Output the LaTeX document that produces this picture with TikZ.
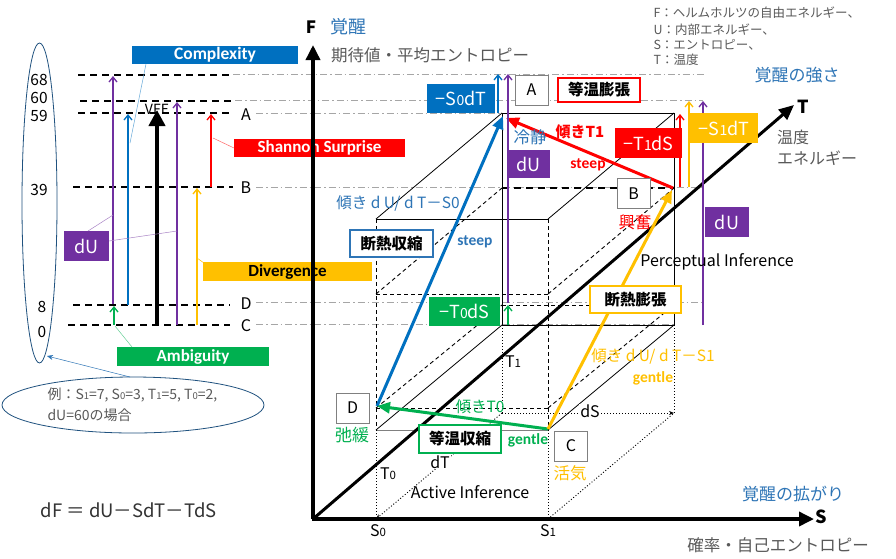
\documentclass[tikz,border=0pt]{standalone}
\usepackage{fontspec}
\setmainfont{Noto Sans CJK JP}
\newfontfamily\calib{Carlito}
\usetikzlibrary{arrows.meta,shapes.geometric}
\definecolor{mblue}{HTML}{0070C0}
\definecolor{tblue}{HTML}{2E75B6}
\definecolor{mred}{HTML}{FF0000}
\definecolor{mgreen}{HTML}{00B050}
\definecolor{myellow}{HTML}{FFC000}
\definecolor{mpurple}{HTML}{7030A0}
\definecolor{mgray}{HTML}{595959}
\definecolor{gline}{HTML}{A6A6A6}
\newcommand{\myfs}[1]{\fontsize{#1}{#1}\selectfont}
\tikzset{
  ggrid/.style={gline, line width=0.8pt, dash pattern=on 7pt off 3pt on 1.5pt off 3pt},
  bdash/.style={black, line width=1.7pt, dash pattern=on 7pt off 5pt},
  cdash/.style={black, line width=0.9pt, dash pattern=on 4pt off 3pt},
  cdot/.style={black, line width=0.9pt, dash pattern=on 1pt off 2pt},
  cline/.style={black, line width=0.8pt},
  axisarr/.style={black, line width=3.5pt, -{Triangle[length=15pt,width=14pt]}},
  bigarr/.style={line width=3pt, -{Triangle[length=13pt,width=11pt]}},
  thinarr/.style={line width=1.3pt, -{Straight Barb[length=5pt,width=8pt]}},
  callout/.style={line width=0.5pt},
  fillbox/.style={rectangle, inner sep=0pt, text=white},
  labbox/.style={rectangle, draw=gray, line width=0.8pt, fill=white, minimum width=33pt, minimum height=30pt, inner sep=0pt, font=\myfs{16}},
  procbox/.style={rectangle, fill=white, line width=1.6pt, inner sep=0pt, font=\bfseries\myfs{15.5}},
  darktext/.style={text=mgray},
}
\begin{document}
\begin{tikzpicture}[x=1pt,y=-1pt]
\useasboundingbox[fill=white] (0,0) rectangle (896,558);
% ---------- coordinates
\coordinate (O) at (313,519);
\coordinate (Ftip) at (313,45);
\coordinate (Stip) at (814,519);
\coordinate (Ttip) at (794,105);
\coordinate (A) at (503,116);
\coordinate (Ar) at (506,118);
\coordinate (B) at (673,188);
\coordinate (Bt) at (672,190);
\coordinate (C) at (548,429);
\coordinate (D) at (377,406);
\coordinate (ftl) at (376,219); \coordinate (ftr) at (548,219);
\coordinate (fbl) at (376,430); \coordinate (fbr) at (548,430);
\coordinate (btl) at (502,113); \coordinate (btr) at (674,113);
\coordinate (bbl) at (502,325); \coordinate (bbr) at (674,325);
\coordinate (fbL) at (376,294); \coordinate (fbR) at (548,294);
\coordinate (bbL) at (502,188); \coordinate (bbR) at (674,188);
\coordinate (fdL) at (376,408); \coordinate (fdR) at (548,408);
\coordinate (bdL) at (502,305); \coordinate (bdR) at (674,305);
\coordinate (s0) at (376,519); \coordinate (s1) at (548,519);
\coordinate (t1a) at (502,413); \coordinate (t1b) at (674,413);

% ---------- gray grid lines
\draw[ggrid] (233,74) -- (707,74);
\draw[ggrid] (235,100) -- (703,100);
\draw[ggrid] (256,113) -- (502,113);
\draw[ggrid] (256,187) -- (705,187);
\draw[ggrid] (256,302) -- (703,302);
\draw[ggrid] (256,324) -- (674,324);

% ---------- left scale dashed lines
\draw[bdash] (78,75) -- (233,75);
\draw[bdash] (80,101) -- (235,101);
\draw[bdash] (78,113) -- (233,113);
\draw[bdash] (73,187) -- (233,187);
\draw[bdash] (73,305) -- (230,305);
\draw[bdash] (68,325) -- (230,325);

% scale letters
\node (lA) at (246,115) {\myfs{16}A};
\node (lB) at (246,188) {\myfs{16}B};
\node (lD) at (246,304) {\myfs{16}D};
\node (lC) at (246,326) {\myfs{16}C};

% big ellipse with numbers
\node (bigell) [draw=tblue!70!black, line width=0.8pt, ellipse, minimum width=35pt, minimum height=320pt, inner sep=0pt] at (39.5,203) {};
\node (n68) at (39,80) {\myfs{15.5}68};
\node (n60) at (39,98) {\myfs{15.5}60};
\node (n59) at (39,116) {\myfs{15.5}59};
\node (n39) at (39,190) {\myfs{15.5}39};
\node (n8) at (42,307) {\myfs{15.5}8};
\node (n0) at (42,332) {\myfs{15.5}0};

% VFE text (behind arrow)
\node (vfe) at (157,109) {\myfs{14}VFE};

% left arrows
\draw[thinarr, mpurple] (113,304) -- (113,76);
\draw[thinarr, mgreen] (114,325) -- (114,306);
\draw[thinarr, mblue] (128,305) -- (128,114);
\draw[black, line width=4pt, -{Triangle[length=16pt,width=16pt]}] (157,325) -- (157,110);
\draw[thinarr, mpurple] (177,325) -- (177,102);
\draw[thinarr, myellow] (197,325) -- (197,188);
\draw[thinarr, mred] (211,187) -- (211,114);

% callout boxes left
\node (cx) [fillbox, fill=mblue, minimum width=166pt, minimum height=18pt, font=\calib\bfseries\myfs{17.5}] at (215,55) {Complexity};
\draw[callout, mblue!60] (146,64) -- (130,143);
\node (sh) [fillbox, fill=mred, minimum width=171pt, minimum height=18pt, font=\calib\bfseries\myfs{17}] at (319.5,148) {Shannon Surprise};
\draw[callout, mred!60] (213,138) -- (234,148);
\node (dv) [fillbox, fill=myellow, text=black, minimum width=169pt, minimum height=19pt, font=\calib\bfseries\myfs{17}] at (287.5,271.5) {Divergence};
\draw[callout, myellow] (197,258) -- (204,263);
\node (du1) [fillbox, fill=mpurple, minimum width=45pt, minimum height=30pt, font=\myfs{18}] at (86.5,246) {dU};
\draw[callout, mpurple!60] (88,231) -- (113,215);
\draw[callout, mpurple!60] (109,241) -- (177,231);
\node (amb) [fillbox, fill=mgreen, minimum width=152pt, minimum height=19pt, font=\calib\bfseries\myfs{17}] at (193,356.5) {Ambiguity};
\draw[callout, mgreen!60] (115,326) -- (132,347);

% example ellipse
\node (exell) [draw=tblue!70!black, line width=0.8pt, ellipse, minimum width=262pt, minimum height=56pt, inner sep=0pt] at (133,405) {};
\draw[callout, tblue, -{Stealth[length=6pt,width=5pt]}] (130,377) -- (47,356);
\node (ex1) [anchor=west, darktext] at (44,395) {\myfs{14}例：S{\myfs{9.5}1}=7, S{\myfs{9.5}0}=3, T{\myfs{9.5}1}=5, T{\myfs{9.5}0}=2,};
\node (ex2) [anchor=west, darktext] at (44,415) {\myfs{14}dU=60の場合};

% formula
\node (dF) [anchor=west, text=black!80] at (37,510) {\myfs{18.5}dF ＝ dU－SdT－TdS};

% ---------- cube
\draw[cline] (ftl) -- (ftr);
\draw[cline] (btl) -- (btr) -- (bbr) -- (bbl) -- cycle;
\draw[cline] (ftl) -- (btl);
\draw[cline] (ftr) -- (btr);
\draw[cline] (fbl) -- (bbl);
\draw[cline] (fbr) -- (bbr);
\draw[cdash] (ftl) -- (fbl);
\draw[cdash] (ftr) -- (fbr);
\draw[gray, line width=1pt] (fbl) -- (fbr);
% B level
\draw[bdash, line width=1.5pt] (bbL) -- (bbR);
\draw[cdash] (fbL) -- (fbR);
\draw[cdash] (fbL) -- (bbL);
\draw[cdash] (fbR) -- (bbR);
% D level
\draw[cdash] (fdL) -- (fdR);
\draw[cdash] (bdL) -- (bdR);
\draw[cdash] (fdL) -- (bdL);
\draw[cdash] (fdR) -- (bdR);
% base dotted
\draw[cdot] (fbl) -- (s0);
\draw[cdot] (fbr) -- (s1);
\draw[cdot] (bbl) -- (t1a);
\draw[cdot] (bbr) -- (t1b);
\draw[cdot, -{Stealth[length=5pt,width=4pt]}] (t1a) -- (s0);
\draw[cdot] (s1) -- (t1b);
\draw[cdot, -{Stealth[length=5pt,width=4pt]}] (t1a) -- (t1b);

% ---------- axes
\draw[axisarr] (O) -- (Ftip);
\draw[axisarr] ([xshift=-1.5pt]O) -- (Stip);
\draw[black, line width=3pt, -{Triangle[length=15pt,width=13pt]}] (O) -- (Ttip);

% ---------- colored process arrows
\draw[bigarr, mblue] (D) -- (A);
\draw[bigarr, mred] (B) -- (Ar);
\draw[bigarr, mgreen] (C) -- (D);
\draw[bigarr, myellow] (C) -- (Bt);

% thin arrows in cube
\draw[thinarr, mblue] (498,113) -- (498,74);
\draw[thinarr, mpurple] (508,303) -- (508,74);
\draw[thinarr, mgreen] (508,325) -- (508,305);
\draw[thinarr, mred] (680,187) -- (680,114);
\draw[thinarr, myellow] (689,187) -- (689,101);
\draw[thinarr, mpurple] (703,325) -- (703,101);

% ---------- labels on axes
\node (lF) at (311,27) {\bfseries\myfs{17}F};
\node (lFj) [text=tblue] at (348,27) {\myfs{18}覚醒};
\node (lFd) [darktext] at (430,55) {\myfs{16.5}期待値・平均エントロピー};
\node (lS) at (821,517) {\bfseries\myfs{18}S};
\node (lSj) [text=tblue] at (793,494) {\myfs{17}覚醒の拡がり};
\node (lSd) [darktext] at (778,545) {\myfs{16.5}確率・自己エントロピー};
\node (lT) at (803,107) {\bfseries\myfs{18}T};
\node (lTj) [text=tblue] at (797,75) {\myfs{17}覚醒の強さ};
\node (lTd1) [darktext] at (793,137) {\myfs{16}温度};
\node (lTd2) [darktext] at (817,158) {\myfs{16}エネルギー};
% legend
\node (lg1) [anchor=west, darktext] at (650,13) {\myfs{12.5}F：ヘルムホルツの自由エネルギー、};
\node (lg2) [anchor=west, darktext] at (650,30) {\myfs{12.5}U：内部エネルギー、};
\node (lg3) [anchor=west, darktext] at (650,45) {\myfs{12.5}S：エントロピー、};
\node (lg4) [anchor=west, darktext] at (650,60) {\myfs{12.5}T：温度};

% axis ticks labels
\node (lS0) at (378,531) {\myfs{16}S{\myfs{11.5}0}};
\node (lS1) at (548,531) {\myfs{16}S{\myfs{11.5}1}};
\node (lT0) at (388,474) {\myfs{16}T{\myfs{11.5}0}};
\node (lT1) at (513,362) {\myfs{16}T{\myfs{11.5}1}};
\node (ldT) [fill=white, inner sep=1pt] at (440,462) {\myfs{16}dT};
\node (ldS) [fill=white, inner sep=1pt] at (590,411) {\myfs{16}dS};

% ---------- boxes in cube
\node (bS0dT) [fillbox, fill=mblue, minimum width=68pt, minimum height=29pt, font=\myfs{18}] at (461,98.5) {−S{\myfs{14}0}dT};
\node (bA) [labbox] at (531.5,90) {A};
\node (bIE) [procbox, draw=mred, minimum width=82pt, minimum height=24pt] at (599,90) {等温膨張};
\node (calm) [text=tblue] at (530,137) {\myfs{16.5}冷静};
\node (bdU2) [fillbox, fill=mpurple, minimum width=43pt, minimum height=28pt, font=\myfs{18}] at (528.5,164) {dU};
\node (kT1) [text=mred] at (580,132) {\bfseries\myfs{15}傾きT1};
\node (stp1) [text=mred] at (588,165) {\calib\bfseries\myfs{15.5}steep};
\node (bT1dS) [fillbox, fill=mred, minimum width=67pt, minimum height=30pt, font=\myfs{18}] at (648.5,143) {−T{\myfs{14}1}dS};
\node (bS1dT) [fillbox, fill=myellow, minimum width=68pt, minimum height=30pt, font=\myfs{18}] at (724,128) {−S{\myfs{14}1}dT};
\node (bB) [labbox] at (633.5,193.5) {B};
\node (exc) [text=mred] at (635,222) {\myfs{16.5}興奮};
\node (bdU3) [fillbox, fill=mpurple, minimum width=44pt, minimum height=30pt, font=\myfs{18}] at (727,222) {dU};
\node (perc) at (717,262) {\myfs{16}Perceptual Inference};
\node (bAE) [procbox, draw=myellow, minimum width=91pt, minimum height=27pt] at (635.5,299.5) {断熱膨張};
\node (kS1) [text=myellow] at (653,356) {\myfs{15.5}傾き d U/ d T－S1};
\node (gnt1) [text=myellow] at (653,378) {\calib\bfseries\myfs{15.5}gentle};
\node (bT0dS) [fillbox, fill=mgreen, minimum width=71pt, minimum height=29pt, font=\myfs{18}] at (464.5,311.5) {−T{\myfs{14}0}dS};
\node (kT0) [text=mgreen] at (480,407) {\myfs{15.5}傾きT0};
\node (gnt0) [text=mgreen] at (528,440) {\calib\bfseries\myfs{15.5}gentle};
\node (bIC) [procbox, draw=mgreen, minimum width=82pt, minimum height=28pt] at (460,439) {等温収縮};
\node (bD) [labbox] at (352.5,408) {D};
\node (relax) [text=mgreen] at (352,435) {\myfs{17}弛緩};
\node (bC) [labbox] at (571,446) {C};
\node (vig) [text=myellow] at (570,473) {\myfs{16.5}活気};
\node (act) at (470,492) {\myfs{16}Active Inference};
\node (bAC) [procbox, draw=tblue, minimum width=83pt, minimum height=27pt] at (391.5,243.5) {断熱収縮};
\node (kS0) [text=tblue] at (398,203) {\myfs{15.5}傾き d U/ d T－S0};
\node (stp0) [text=tblue] at (475,242) {\calib\bfseries\myfs{15.5}steep};
\end{tikzpicture}
\end{document}
